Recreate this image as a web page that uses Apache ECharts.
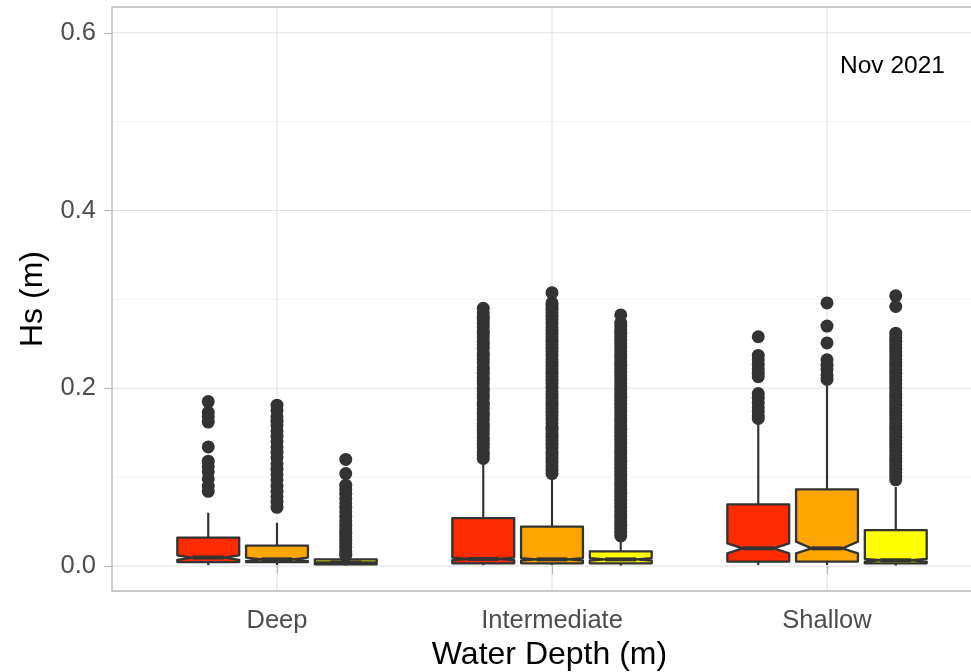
<!DOCTYPE html>
<html>
<head>
<meta charset="utf-8">
<script src="https://cdn.jsdelivr.net/npm/echarts@6/dist/echarts.min.js"></script>
<style>
  html, body { margin: 0; padding: 0; background: #ffffff; }
  #chart { width: 971px; height: 672px; }
</style>
</head>
<body>
<div id="chart"></div>
<script>
// Depth classes along the x axis (placed at positions 1, 2, 3)
const categories = ['Deep', 'Intermediate', 'Shallow'];

// Axis tick values
const yTickValues = [0, 0.2, 0.4, 0.6];
const yMinorValues = [0.1, 0.3, 0.5];
const xTickValues = [1, 2, 3];

// Box statistics per depth class:
// [lowerWhisker, lowerHinge, notchLower, median, notchUpper, upperHinge, upperWhisker]
const redStats = [
  [0.001, 0.0045, 0.007, 0.0095, 0.012, 0.032, 0.060],
  [0.001, 0.003, 0.0065, 0.008, 0.0095, 0.054, 0.117],
  [0.001, 0.005, 0.0143, 0.0199, 0.0255, 0.0694, 0.160]
];
const orangeStats = [
  [0.001, 0.0045, 0.0055, 0.0075, 0.0095, 0.0229, 0.0487],
  [0.001, 0.003, 0.006, 0.0075, 0.009, 0.0443, 0.101],
  [0.001, 0.005, 0.0143, 0.0199, 0.0274, 0.0863, 0.2026]
];
const yellowStats = [
  [0.0005, 0.002, 0.0035, 0.004, 0.0045, 0.0075, 0.0115],
  [0.0005, 0.003, 0.006, 0.0075, 0.009, 0.0165, 0.031],
  [0.0005, 0.003, 0.005, 0.0065, 0.008, 0.0405, 0.089]
];

// Outlying Hs values per depth class
const redOutliers = [
  [0.185, 0.173, 0.168, 0.162, 0.134, 0.118, 0.112, 0.106, 0.098, 0.090, 0.084],
  [0.121, 0.125, 0.128, 0.133, 0.137, 0.141, 0.144, 0.149, 0.153, 0.157, 0.160, 0.165,
   0.169, 0.172, 0.177, 0.181, 0.184, 0.189, 0.193, 0.197, 0.200, 0.205, 0.209, 0.212,
   0.217, 0.221, 0.224, 0.229, 0.233, 0.237, 0.240, 0.245, 0.249, 0.252, 0.257, 0.261,
   0.264, 0.269, 0.273, 0.277, 0.280, 0.285, 0.290],
  [0.258, 0.237, 0.232, 0.227, 0.222, 0.217, 0.213, 0.194, 0.189, 0.184, 0.179, 0.174, 0.169, 0.166]
];
const orangeOutliers = [
  [0.181, 0.175, 0.168, 0.163, 0.158, 0.152, 0.146, 0.140, 0.134, 0.128, 0.122, 0.115,
   0.109, 0.103, 0.097, 0.090, 0.084, 0.078, 0.072, 0.066],
  [0.104, 0.108, 0.112, 0.117, 0.121, 0.125, 0.128, 0.133, 0.137, 0.141, 0.145, 0.149,
   0.153, 0.156, 0.161, 0.165, 0.169, 0.173, 0.177, 0.181, 0.185, 0.189, 0.193, 0.197,
   0.201, 0.205, 0.209, 0.213, 0.217, 0.221, 0.225, 0.229, 0.233, 0.237, 0.241, 0.245,
   0.249, 0.253, 0.257, 0.261, 0.265, 0.269, 0.273, 0.277, 0.281, 0.285, 0.289, 0.293,
   0.296, 0.3076],
  [0.296, 0.270, 0.251, 0.232, 0.226, 0.221, 0.215, 0.210]
];
const yellowOutliers = [
  [0.120, 0.104, 0.091, 0.086, 0.081, 0.076, 0.071, 0.066, 0.061, 0.056, 0.051, 0.046,
   0.041, 0.037, 0.033, 0.029, 0.025, 0.021, 0.017, 0.014, 0.012],
  [0.034, 0.038, 0.042, 0.046, 0.050, 0.054, 0.058, 0.062, 0.066, 0.070, 0.074, 0.078,
   0.082, 0.086, 0.090, 0.094, 0.098, 0.102, 0.106, 0.110, 0.114, 0.118, 0.122, 0.126,
   0.130, 0.134, 0.138, 0.142, 0.146, 0.150, 0.154, 0.158, 0.162, 0.166, 0.170, 0.174,
   0.178, 0.182, 0.186, 0.190, 0.194, 0.198, 0.202, 0.206, 0.210, 0.214, 0.218, 0.222,
   0.226, 0.230, 0.234, 0.238, 0.242, 0.246, 0.250, 0.254, 0.258, 0.262, 0.266, 0.270,
   0.274, 0.2825],
  [0.097, 0.101, 0.105, 0.109, 0.113, 0.117, 0.121, 0.125, 0.129, 0.133, 0.137, 0.141,
   0.145, 0.149, 0.153, 0.157, 0.161, 0.165, 0.169, 0.173, 0.177, 0.181, 0.185, 0.189,
   0.193, 0.197, 0.201, 0.205, 0.209, 0.213, 0.217, 0.221, 0.225, 0.229, 0.233, 0.237,
   0.241, 0.245, 0.249, 0.253, 0.257, 0.262, 0.292, 0.304]
];

// Fill groups: colour and dodge offset within each depth class
const groups = [
  { name: 'red', color: '#FF2B00', offset: -0.25, stats: redStats, outliers: redOutliers },
  { name: 'orange', color: '#FFA500', offset: 0, stats: orangeStats, outliers: orangeOutliers },
  { name: 'yellow', color: '#FFFF00', offset: 0.25, stats: yellowStats, outliers: yellowOutliers }
];

const BOX_WIDTH = 0.225;     // in x-axis units
const NOTCH_RATIO = 0.5;     // notch width relative to box width
const INK = '#333333';
const FRAME = '#b8b8b8';
const FONT = "'Liberation Sans', Arial, Helvetica, sans-serif";

function boxRenderer(offset, color) {
  return function (params, api) {
    const x = api.value(0) + offset;
    const v = [1, 2, 3, 4, 5, 6, 7].map(i => api.value(i));
    const [lw, q1, nl, md, nu, q3, uw] = v;
    const cx = api.coord([x, 0])[0];
    const y = val => api.coord([x, val])[1];
    const half = api.size([BOX_WIDTH, 0])[0] / 2;
    const nx = half * NOTCH_RATIO;
    const pts = [
      [cx - half, y(q3)], [cx - half, y(nu)], [cx - nx, y(md)], [cx - half, y(nl)],
      [cx - half, y(q1)], [cx + half, y(q1)], [cx + half, y(nl)], [cx + nx, y(md)],
      [cx + half, y(nu)], [cx + half, y(q3)]
    ];
    return {
      type: 'group',
      children: [
        { type: 'line', shape: { x1: cx, y1: y(q3), x2: cx, y2: y(uw) },
          style: { stroke: INK, lineWidth: 2.2 } },
        { type: 'line', shape: { x1: cx, y1: y(q1), x2: cx, y2: y(lw) },
          style: { stroke: INK, lineWidth: 2.2 } },
        { type: 'polygon', shape: { points: pts },
          style: { fill: color, stroke: INK, lineWidth: 2.3, lineJoin: 'round' } },
        { type: 'line', shape: { x1: cx - nx, y1: y(md), x2: cx + nx, y2: y(md) },
          style: { stroke: INK, lineWidth: 4 } }
      ]
    };
  };
}

// Horizontal gridlines across the panel
function hGridRenderer(color, width) {
  return function (params, api) {
    const cs = params.coordSys;
    const yy = api.coord([1, api.value(0)])[1];
    return { type: 'line', shape: { x1: cs.x, y1: yy, x2: cs.x + cs.width, y2: yy },
             style: { stroke: color, lineWidth: width } };
  };
}
// Vertical gridlines at the depth classes
function vGridRenderer(color, width) {
  return function (params, api) {
    const cs = params.coordSys;
    const xx = api.coord([api.value(0), 0])[0];
    return { type: 'line', shape: { x1: xx, y1: cs.y, x2: xx, y2: cs.y + cs.height },
             style: { stroke: color, lineWidth: width } };
  };
}
// Panel frame: top, left and bottom edges (the panel runs on past the right edge)
function frameRenderer(params) {
  const cs = params.coordSys;
  return {
    type: 'polyline',
    shape: { points: [[cs.x + cs.width + 2, cs.y], [cs.x, cs.y], [cs.x, cs.y + cs.height],
                      [cs.x + cs.width + 2, cs.y + cs.height]] },
    style: { stroke: FRAME, lineWidth: 1.3, fill: null }
  };
}

const series = [
  { type: 'custom', silent: true, renderItem: hGridRenderer('#f0f0f0', 0.8),
    data: yMinorValues.map(v => [v]), encode: { y: 0 }, z: 0 },
  { type: 'custom', silent: true, renderItem: hGridRenderer('#e2e2e2', 1.1),
    data: yTickValues.map(v => [v]), encode: { y: 0 }, z: 0 },
  { type: 'custom', silent: true, renderItem: vGridRenderer('#e2e2e2', 1.1),
    data: xTickValues.map(v => [v]), encode: { x: 0 }, z: 0 }
];

groups.forEach(g => {
  const pts = [];
  g.outliers.forEach((list, ci) => {
    list.forEach(val => pts.push([ci + 1 + g.offset, val]));
  });
  series.push({
    name: g.name + ' outliers', type: 'scatter', data: pts,
    symbolSize: 13, itemStyle: { color: INK, opacity: 1 }, z: 2
  });
  series.push({
    name: g.name, type: 'custom', renderItem: boxRenderer(g.offset, g.color),
    data: g.stats.map((s, ci) => [ci + 1].concat(s)),
    encode: { x: 0, y: 4 }, z: 2
  });
});

series.push({ type: 'custom', silent: true, renderItem: frameRenderer,
              data: [[1, 0]], encode: { x: 0, y: 1 }, z: 5 });

const chart = echarts.init(document.getElementById('chart'), null, { renderer: 'canvas' });
chart.setOption({
  animation: false,
  backgroundColor: '#ffffff',
  grid: { left: 112, top: 7, right: 0, bottom: 81, show: false,
          containLabel: false, outerBoundsMode: 'none' },
  xAxis: {
    // category positions 1..3 with 0.6 padding either side; panel continues past the right edge
    type: 'value', min: 0.4, max: 3.5236,
    name: 'Water Depth (m)', nameLocation: 'middle', nameGap: 48,
    nameTextStyle: { color: '#000000', fontSize: 32, fontFamily: FONT, padding: [0, 0, 0, 16] },
    axisLine: { show: false },
    axisTick: { show: true, customValues: xTickValues, length: 8,
                lineStyle: { color: FRAME, width: 1.2 } },
    axisLabel: { customValues: xTickValues, margin: 17,
                 formatter: v => categories[Math.round(v) - 1] || '',
                 color: '#4d4d4d', fontSize: 25.5, fontFamily: FONT },
    splitLine: { show: false }
  },
  yAxis: {
    type: 'value', min: -0.0281, max: 0.629,
    name: 'Hs (m)', nameLocation: 'middle', nameGap: 63, nameRotate: 90,
    nameTextStyle: { color: '#000000', fontSize: 32, fontFamily: FONT },
    axisLine: { show: false },
    axisTick: { show: true, customValues: yTickValues, length: 8,
                lineStyle: { color: FRAME, width: 1.2 } },
    axisLabel: { customValues: yTickValues, margin: 16,
                 formatter: v => v.toFixed(1),
                 color: '#4d4d4d', fontSize: 25.5, fontFamily: FONT },
    splitLine: { show: false }
  },
  graphic: [{
    type: 'text', left: 840, top: 54,
    style: { text: 'Nov 2021', fill: '#000000', fontSize: 24.5, fontFamily: FONT }
  }],
  series: series
});
</script>
</body>
</html>
